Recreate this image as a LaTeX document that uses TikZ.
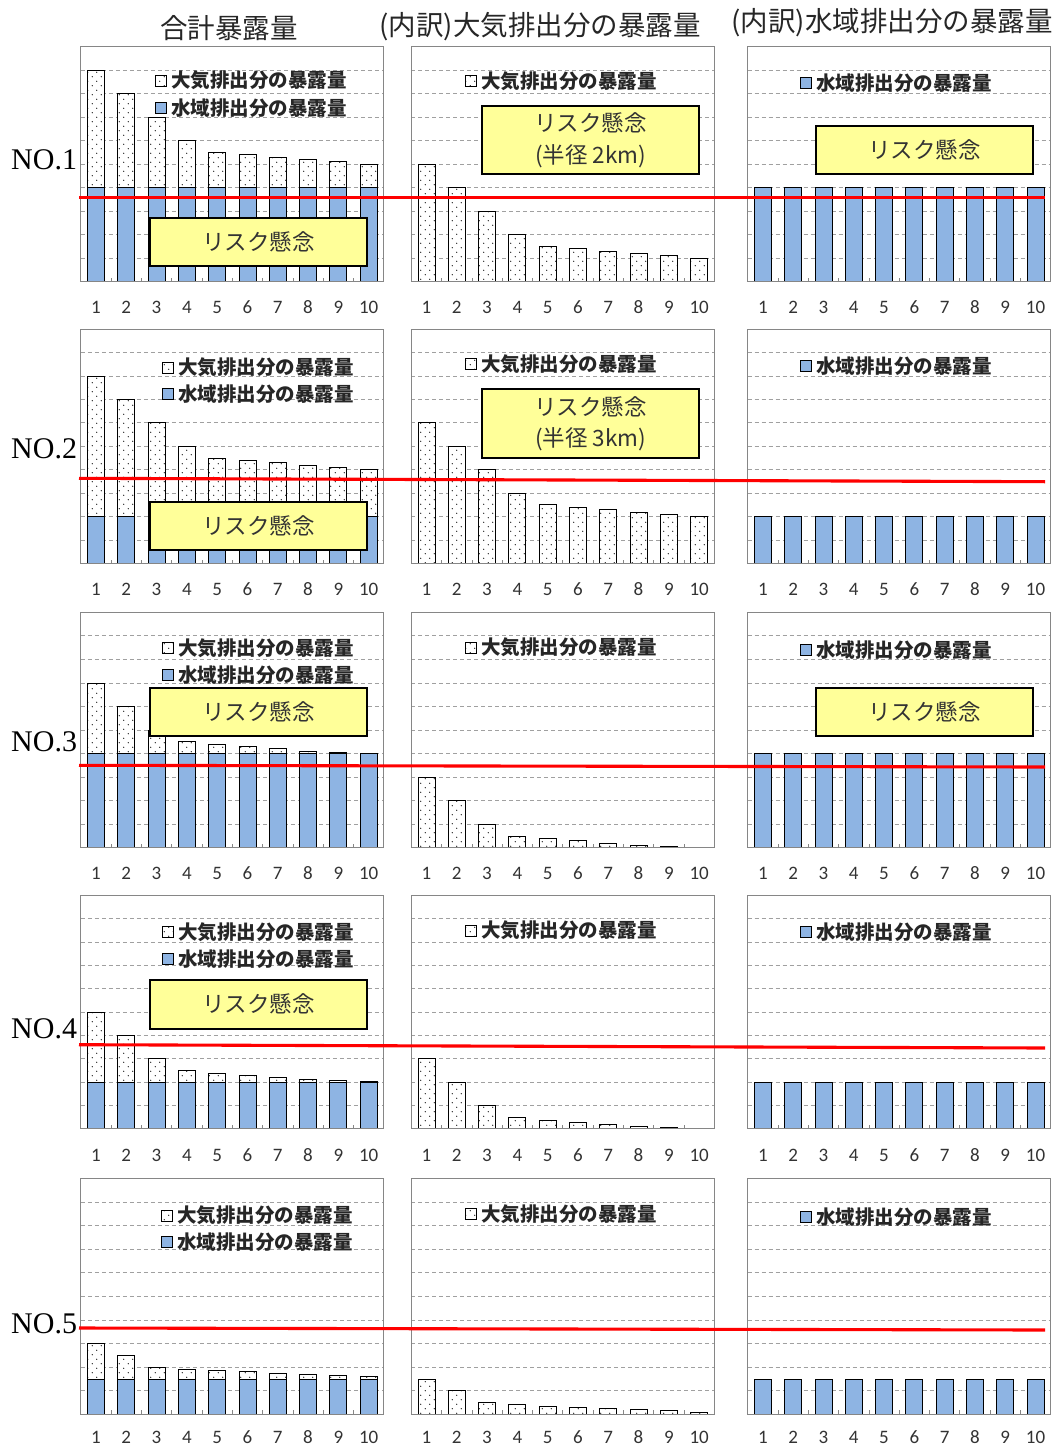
\documentclass[tikz,border=0pt]{standalone}
\usepackage{fontspec}
\setmainfont{Liberation Serif}
\newfontfamily\jpfont{Noto Sans CJK JP}
\newfontfamily\numfont{Carlito}
\usetikzlibrary{patterns}
\pgfdeclarepatternformonly{sparsedots}{\pgfpoint{-1pt}{-1pt}}{\pgfpoint{10pt}{10pt}}{\pgfpoint{9pt}{9pt}}{%
  \pgfpathcircle{\pgfpoint{2.2pt}{2.2pt}}{0.65pt}%
  \pgfpathcircle{\pgfpoint{6.7pt}{6.7pt}}{0.65pt}%
  \pgfusepath{fill}}
\definecolor{waterblue}{RGB}{142,180,227}
\definecolor{riskyellow}{RGB}{255,255,153}
\definecolor{framegray}{RGB}{134,134,134}
\definecolor{gridgray}{RGB}{160,160,160}
\tikzset{
  gridln/.style={gridgray, line width=0.8pt, dash pattern=on 4pt off 3pt},
  tickln/.style={framegray, line width=0.8pt},
  frameln/.style={framegray, line width=1pt},
  waterbar/.style={draw=black, line width=0.8pt, fill=waterblue},
  airbar/.style={draw=black, line width=0.8pt, fill=white, postaction={pattern=sparsedots}},
  redln/.style={red, line width=3.1pt},
  axnum/.style={font=\numfont\fontsize{19}{20}\selectfont, text=black!80, inner sep=0pt},
  legtxt/.style={anchor=west, inner sep=0pt, font=\jpfont\bfseries\fontsize{19.5}{20}\selectfont, text=black!85},
  riskbox/.style={draw=black, line width=2pt, fill=riskyellow, font=\jpfont\fontsize{22.5}{31.6}\selectfont, text=black!80, align=center, inner sep=0pt, minimum width=217pt},
  coltitle/.style={font=\jpfont\fontsize{27.5}{30}\selectfont, text=black!85, inner sep=0pt},
  rowlab/.style={font=\fontsize{30}{32}\selectfont, anchor=west, inner sep=0pt}
}
\newcommand\legair[3]{%
  \draw[airbar] (#1,#2-5.5) rectangle (#1+11,#2+5.5);
  \node[legtxt] (#3) at (#1+16,#2) {大気排出分の暴露量};}
\newcommand\legwater[3]{%
  \draw[waterbar] (#1,#2-5.5) rectangle (#1+11,#2+5.5);
  \node[legtxt] (#3) at (#1+16,#2) {水域排出分の暴露量};}
\begin{document}
\begin{tikzpicture}[x=1pt,y=-1pt]
\fill[white] (0,0) rectangle (1057,1447);
\useasboundingbox (0,0) rectangle (1057,1447);

\foreach \rr/\yt/\yb/\wv/\airlist/\rla/\rlb/\ny in {
 1/46.5/281.7/4/{5,4,3,2,1.5,1.4,1.3,1.2,1.1,1.0}/197.3/197.3/307.5,
 2/329/563.5/2/{6,5,4,3,2.5,2.4,2.3,2.2,2.1,2.0}/478.3/481.7/589.5,
 3/612.3/847.7/4/{3,2,1,0.5,0.4,0.3,0.2,0.1,0.06,0.02}/765.3/767/873,
 4/895.3/1128.7/2/{3,2,1,0.5,0.37,0.28,0.18,0.1,0.05,0.02}/1044.7/1048/1155,
 5/1178.3/1414.3/1.5/{1.5,1.0,0.5,0.4,0.35,0.3,0.25,0.2,0.15,0.1}/1328/1330/1437.5}{
  \pgfmathsetmacro\st{(\yb-\yt)/10}
  \foreach \L in {80.8,411.3,747.7}{
    \foreach \k in {1,...,9}{
      \draw[gridln] (\L,\yt+\k*\st) -- (\L+303,\yt+\k*\st);
      \draw[tickln] (\L+\k*30.3,\yb) -- (\L+\k*30.3,\yb-4);
    }
  }
  \foreach \v [count=\i] in \airlist{
    \pgfmathsetmacro\cx{80.8+15.15+(\i-1)*30.3}
    \pgfmathsetmacro\hw{\wv*\st}
    \pgfmathsetmacro\ha{\v*\st}
    \draw[waterbar] (\cx-8.5,\yb) rectangle (\cx+8.5,\yb-\hw);
    \draw[airbar] (\cx-8.5,\yb-\hw) rectangle (\cx+8.5,\yb-\hw-\ha);
    \draw[airbar] (\cx+330.5-8.5,\yb) rectangle (\cx+330.5+8.5,\yb-\ha);
    \draw[waterbar] (\cx+666.9-8.5,\yb) rectangle (\cx+666.9+8.5,\yb-\hw);
  }
  \foreach \L [count=\c] in {80.8,411.3,747.7}{
    \draw[frameln] (\L,\yt) rectangle (\L+303,\yb);
    \foreach \k in {1,...,10}{
      \node[axnum] (n\rr-\c-\k) at (\L+15.15+\k*30.3-30.3,\ny) {\k};
    }
  }
  \draw[redln] (79,\rla) -- (1045,\rlb);
}

% column titles
\node[coltitle] (t1) at (229,28) {合計暴露量};
\node[coltitle] (t2) at (540,27) {(内訳)大気排出分の暴露量};
\node[coltitle] (t3) at (892,23) {(内訳)水域排出分の暴露量};

% row labels
\node[rowlab] (no1) at (11,160) {NO.1};
\node[rowlab] (no2) at (11,448.3) {NO.2};
\node[rowlab] (no3) at (11,741.7) {NO.3};
\node[rowlab] (no4) at (11,1028.7) {NO.4};
\node[rowlab] (no5) at (11,1323.3) {NO.5};

% legends
\legair{155}{80.7}{la11} \legwater{155}{108.3}{lw11}
\legair{465}{81}{la12} \legwater{800}{83.3}{lw13}
\legair{162}{367.7}{la21} \legwater{162}{394}{lw21}
\legair{465}{364.3}{la22} \legwater{800}{365.7}{lw23}
\legair{162}{648.3}{la31} \legwater{162}{675}{lw31}
\legair{465}{647.7}{la32} \legwater{800}{650}{lw33}
\legair{162}{932}{la41} \legwater{162}{958.7}{lw41}
\legair{465}{930.7}{la42} \legwater{800}{932.3}{lw43}
\legair{161}{1215.7}{la51} \legwater{161}{1241.7}{lw51}
\legair{465}{1214.3}{la52} \legwater{800}{1216.7}{lw53}

% risk boxes
\node[riskbox, minimum height=48pt] (risk11) at (258.5,242) {リスク懸念};
\node[riskbox, minimum height=68pt] (risk12) at (590.5,140) {リスク懸念\\(半径 2km)};
\node[riskbox, minimum height=48pt] (risk13) at (924.5,150) {リスク懸念};
\node[riskbox, minimum height=48pt] (risk21) at (258.5,525.5) {リスク懸念};
\node[riskbox, minimum height=69pt] (risk22) at (590.5,423.8) {リスク懸念\\(半径 3km)};
\node[riskbox, minimum height=48pt] (risk31) at (258.5,711.7) {リスク懸念};
\node[riskbox, minimum height=48pt] (risk33) at (924.5,712) {リスク懸念};
\node[riskbox, minimum height=49pt] (risk41) at (258.5,1004.2) {リスク懸念};
\end{tikzpicture}
\end{document}
